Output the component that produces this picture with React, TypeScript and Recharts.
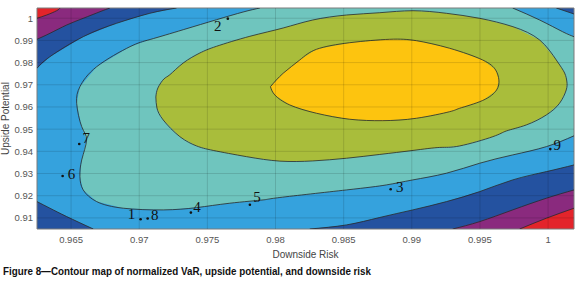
import {
  Area,
  ComposedChart,
  Line,
  ReferenceArea,
  ReferenceLine,
  Scatter,
  XAxis,
  YAxis,
} from 'recharts'

type Pair = [number, number]

// plot window in data units
const X_MIN = 0.9625
const X_MAX = 1.0019
const Y_MIN = 0.905
const Y_MAX = 1.0046

const xTicks = [0.965, 0.97, 0.975, 0.98, 0.985, 0.99, 0.995, 1]
const yTicks = [0.91, 0.92, 0.93, 0.94, 0.95, 0.96, 0.97, 0.98, 0.99, 1]

// contour lines, [downside risk, upside potential]
const redTopLeft: Pair[] = [
  [0.9625, 1.0], [0.96321, 1.00144], [0.96394, 1.00338], [0.96419, 1.0046],
]
const redBottomRight: Pair[] = [
  [0.99791, 0.905], [0.99987, 0.90986], [1.0019, 0.91437],
]
const purpleTopLeft: Pair[] = [
  [0.9625, 0.9905], [0.96345, 0.9932], [0.96468, 0.99694], [0.96589, 0.99995],
  [0.96712, 1.00293], [0.96785, 1.0046],
]
const purpleBottomRight: Pair[] = [
  [0.993, 0.905], [0.99498, 0.90833], [0.9974, 0.9136], [0.99987, 0.91887],
  [1.0019, 0.92261],
]
const darkTopLeft: Pair[] = [
  [0.9625, 0.97743], [0.96345, 0.98266], [0.96589, 0.99167], [0.96834, 0.9977],
  [0.97078, 1.00221], [0.97274, 1.0046],
]
const darkTopRight: Pair[] = [[1.0006, 1.0046], [1.0019, 1.0019]]
const darkBottomRight: Pair[] = [
  [0.98251, 0.905], [0.98521, 0.90685], [0.98765, 0.9102], [0.99007, 0.9136],
  [0.99254, 0.91734], [0.99498, 0.92185], [0.9974, 0.92712], [0.99987, 0.93086],
  [1.0019, 0.93387],
]
const darkBottomLeft: Pair[] = [
  [0.9625, 0.91734], [0.96345, 0.91437], [0.96468, 0.91059], [0.96663, 0.905],
]
const tealMain: Pair[] = [
  [0.97885, 1.0046], [0.97762, 1.00279], [0.97567, 0.99932], [0.97323, 0.99482],
  [0.9708, 0.99041], [0.96932, 0.98716], [0.96688, 0.97815], [0.96565, 0.96914],
  [0.96541, 0.96167], [0.96578, 0.95113], [0.96614, 0.94514], [0.96578, 0.93613],
  [0.96565, 0.9286], [0.96589, 0.92261], [0.96688, 0.91734], [0.96883, 0.91437],
  [0.97176, 0.9136], [0.97421, 0.91464], [0.97665, 0.91662], [0.97909, 0.91811],
  [0.98032, 0.9192], [0.98521, 0.92261], [0.98813, 0.92486], [0.99007, 0.92712],
  [0.99254, 0.93014], [0.99498, 0.93464], [0.9974, 0.93838], [0.99987, 0.94212],
  [1.0019, 0.947],
]
const tealTopRight: Pair[] = [
  [0.9974, 1.0046], [0.99938, 0.99919], [1.00106, 0.99392], [1.0019, 0.99167],
]
const greenRing: Pair[] = [
  [0.97122, 0.9645], [0.97137, 0.96856], [0.97181, 0.97261], [0.97225, 0.97455],
  [0.97323, 0.97982], [0.97445, 0.98432], [0.97567, 0.98734], [0.97812, 0.99185],
  [0.98056, 0.99559], [0.98273, 0.99919], [0.98521, 1.00144], [0.98765, 1.00248],
  [0.99009, 1.00338], [0.99254, 1.00221], [0.99498, 0.99995], [0.99742, 0.99617],
  [0.99938, 0.99018], [1.0006, 0.98117], [1.00121, 0.97532], [1.00138, 0.97126],
  [1.00133, 0.96766], [1.00084, 0.96167], [0.99987, 0.9564], [0.9984, 0.9519],
  [0.99694, 0.94919], [0.99595, 0.94662], [0.99351, 0.94243], [0.99205, 0.94176],
  [0.99009, 0.94041], [0.98765, 0.9386], [0.98521, 0.93689], [0.98273, 0.93568],
  [0.98032, 0.93559], [0.97787, 0.93761], [0.97543, 0.94041], [0.97421, 0.94243],
  [0.97298, 0.94662], [0.97176, 0.95414], [0.9713, 0.95955],
]
const yellowRing: Pair[] = [
  [0.97963, 0.96916], [0.98056, 0.97518], [0.98178, 0.98117], [0.98301, 0.98599],
  [0.98545, 0.98896], [0.98838, 0.9905], [0.99034, 0.98986], [0.99278, 0.98644],
  [0.9952, 0.98117], [0.99615, 0.97667], [0.99639, 0.97216], [0.99622, 0.96766],
  [0.9952, 0.96293], [0.99351, 0.95941], [0.99278, 0.95788], [0.99034, 0.95491],
  [0.98787, 0.95383], [0.98545, 0.95446], [0.98301, 0.95716], [0.98105, 0.9609],
  [0.97995, 0.96541],
]

// numbered portfolios
const portfolioNames = ['1', '2', '3', '4', '5', '6', '7', '8', '9']
const portfolioRisk = [0.9701, 0.9765, 0.98845, 0.97379, 0.97812, 0.96438, 0.9656, 0.97062, 1.00016]
const portfolioUpside = [0.9094, 0.9998, 0.9229, 0.9124, 0.9159, 0.9289, 0.9433, 0.9097, 0.941]

const toPoints = (pairs: Pair[]) => pairs.map(([x, y]) => ({ x, y }))
const rev = (pairs: Pair[]) => [...pairs].reverse()
const close = (pairs: Pair[]) => toPoints([...pairs, pairs[0]])

const fills = [
  {
    key: 'red',
    color: '#E3242B',
    data: close([[X_MIN, Y_MIN], [X_MIN, Y_MAX], [X_MAX, Y_MAX], [X_MAX, Y_MIN]]),
  },
  {
    key: 'purple',
    color: '#8A2A7E',
    data: close([...redTopLeft, [X_MAX, Y_MAX], ...rev(redBottomRight), [X_MIN, Y_MIN]]),
  },
  {
    key: 'darkBlue',
    color: '#2452A0',
    data: close([...purpleTopLeft, [X_MAX, Y_MAX], ...rev(purpleBottomRight), [X_MIN, Y_MIN]]),
  },
  {
    key: 'lightBlue',
    color: '#35A2DD',
    data: close([...darkTopLeft, ...darkTopRight, ...rev(darkBottomRight), ...rev(darkBottomLeft)]),
  },
  { key: 'teal', color: '#6FC5BE', data: close([...tealMain, ...rev(tealTopRight)]) },
  { key: 'green', color: '#A9BD3B', data: close(greenRing) },
  { key: 'yellow', color: '#FDC40F', data: close(yellowRing) },
]

const contourLines = [
  { key: 'l1', data: toPoints(redTopLeft) },
  { key: 'l2', data: toPoints(redBottomRight) },
  { key: 'l3', data: toPoints(purpleTopLeft) },
  { key: 'l4', data: toPoints(purpleBottomRight) },
  { key: 'l5', data: toPoints(darkTopLeft) },
  { key: 'l6', data: toPoints(darkTopRight) },
  { key: 'l7', data: toPoints(darkBottomRight) },
  { key: 'l8', data: toPoints(darkBottomLeft) },
  { key: 'l9', data: toPoints(tealMain) },
  { key: 'l10', data: toPoints(tealTopRight) },
  { key: 'l11', data: close(greenRing) },
  { key: 'l12', data: close(yellowRing) },
]

const portfolios = portfolioNames.map((name, i) => ({
  name,
  x: portfolioRisk[i],
  y: portfolioUpside[i],
}))

// where each number sits relative to its dot (px)
const labelOffset: Record<string, [number, number]> = {
  '1': [-9, -5],
  '2': [-10, 7],
  '3': [9, -3],
  '4': [6, -6],
  '5': [7, -8],
  '6': [9, -2],
  '7': [7, -6],
  '8': [7, -4],
  '9': [7, -4],
}

const SANS = 'Liberation Sans, Arial, sans-serif'
const axisFont = { fontSize: 9.5, fill: '#555', fontFamily: SANS }

const PortfolioMark = (props: any) => {
  const { cx, cy, payload } = props
  const [dx, dy] = labelOffset[payload.name] ?? [7, -5]
  return (
    <g>
      <circle cx={cx} cy={cy} r={1.3} fill='#111' />
      <text
        x={cx + dx}
        y={cy + dy}
        dy='0.35em'
        textAnchor='middle'
        fontSize={15}
        fontFamily='Liberation Serif, Times New Roman, serif'
        fill='#111'
      >
        {payload.name}
      </text>
    </g>
  )
}

export default function App() {
  return (
    <div style={{ position: 'relative', width: 580, height: 297, background: '#fff' }}>
      <style>{'body{margin:0}'}</style>
      <ComposedChart width={580} height={249} margin={{ top: 8, right: 6, bottom: 0, left: 0 }}>
        <XAxis
          type='number'
          dataKey='x'
          domain={[X_MIN, X_MAX]}
          ticks={xTicks}
          interval={0}
          allowDataOverflow
          axisLine={false}
          tickLine={false}
          tickSize={0}
          tickMargin={7}
          height={20}
          tick={axisFont}
        />
        <YAxis
          type='number'
          dataKey='y'
          domain={[Y_MIN, Y_MAX]}
          ticks={yTicks}
          interval={0}
          allowDataOverflow
          axisLine={false}
          tickLine={false}
          tickSize={0}
          tickMargin={4}
          width={37}
          tick={axisFont}
        />
        {fills.map((f) => (
          <Area
            key={f.key}
            data={f.data}
            dataKey='y'
            type='linear'
            fill={f.color}
            fillOpacity={1}
            stroke='none'
            dot={false}
            activeDot={false}
            isAnimationActive={false}
          />
        ))}
        {contourLines.map((l) => (
          <Line
            key={l.key}
            data={l.data}
            dataKey='y'
            type='natural'
            stroke='#2a2a2a'
            strokeWidth={0.8}
            dot={false}
            activeDot={false}
            isAnimationActive={false}
          />
        ))}
        {/* grid drawn over the filled contours, as in the original */}
        {xTicks.map((t) => (
          <ReferenceLine key={'gx' + t} x={t} stroke='#000' strokeOpacity={0.13} />
        ))}
        {yTicks.map((t) => (
          <ReferenceLine key={'gy' + t} y={t} stroke='#000' strokeOpacity={0.13} />
        ))}
        <ReferenceArea
          x1={X_MIN}
          x2={X_MAX}
          y1={Y_MIN}
          y2={Y_MAX}
          fill='none'
          stroke='#7a7a7a'
          strokeWidth={1}
          ifOverflow='visible'
        />
        <Scatter data={portfolios} shape={PortfolioMark} isAnimationActive={false} />
      </ComposedChart>
      {/* x-axis title in normal flow under the tick labels */}
      <div
        style={{
          height: 11,
          lineHeight: '11px',
          paddingLeft: 37,
          paddingRight: 6,
          textAlign: 'center',
          fontSize: 10,
          color: '#444',
          fontFamily: SANS,
        }}
      >
        Downside Risk
      </div>
      <svg width={580} height={37} style={{ display: 'block' }}>
        <text
          x={3}
          y={15}
          fontSize={10.5}
          fontWeight='bold'
          fontFamily={SANS}
          fill='#111'
          textLength={368}
          lengthAdjust='spacingAndGlyphs'
        >
          Figure 8—Contour map of normalized VaR, upside potential, and downside risk
        </text>
      </svg>
      <svg
        width={40}
        height={240}
        style={{ position: 'absolute', left: 0, top: 0, pointerEvents: 'none' }}
      >
        <text
          x={118.5}
          y={9}
          transform='rotate(-90 118.5 118.5)'
          textAnchor='middle'
          fontSize={10}
          fill='#444'
          fontFamily={SANS}
        >
          Upside Potential
        </text>
      </svg>
    </div>
  )
}
